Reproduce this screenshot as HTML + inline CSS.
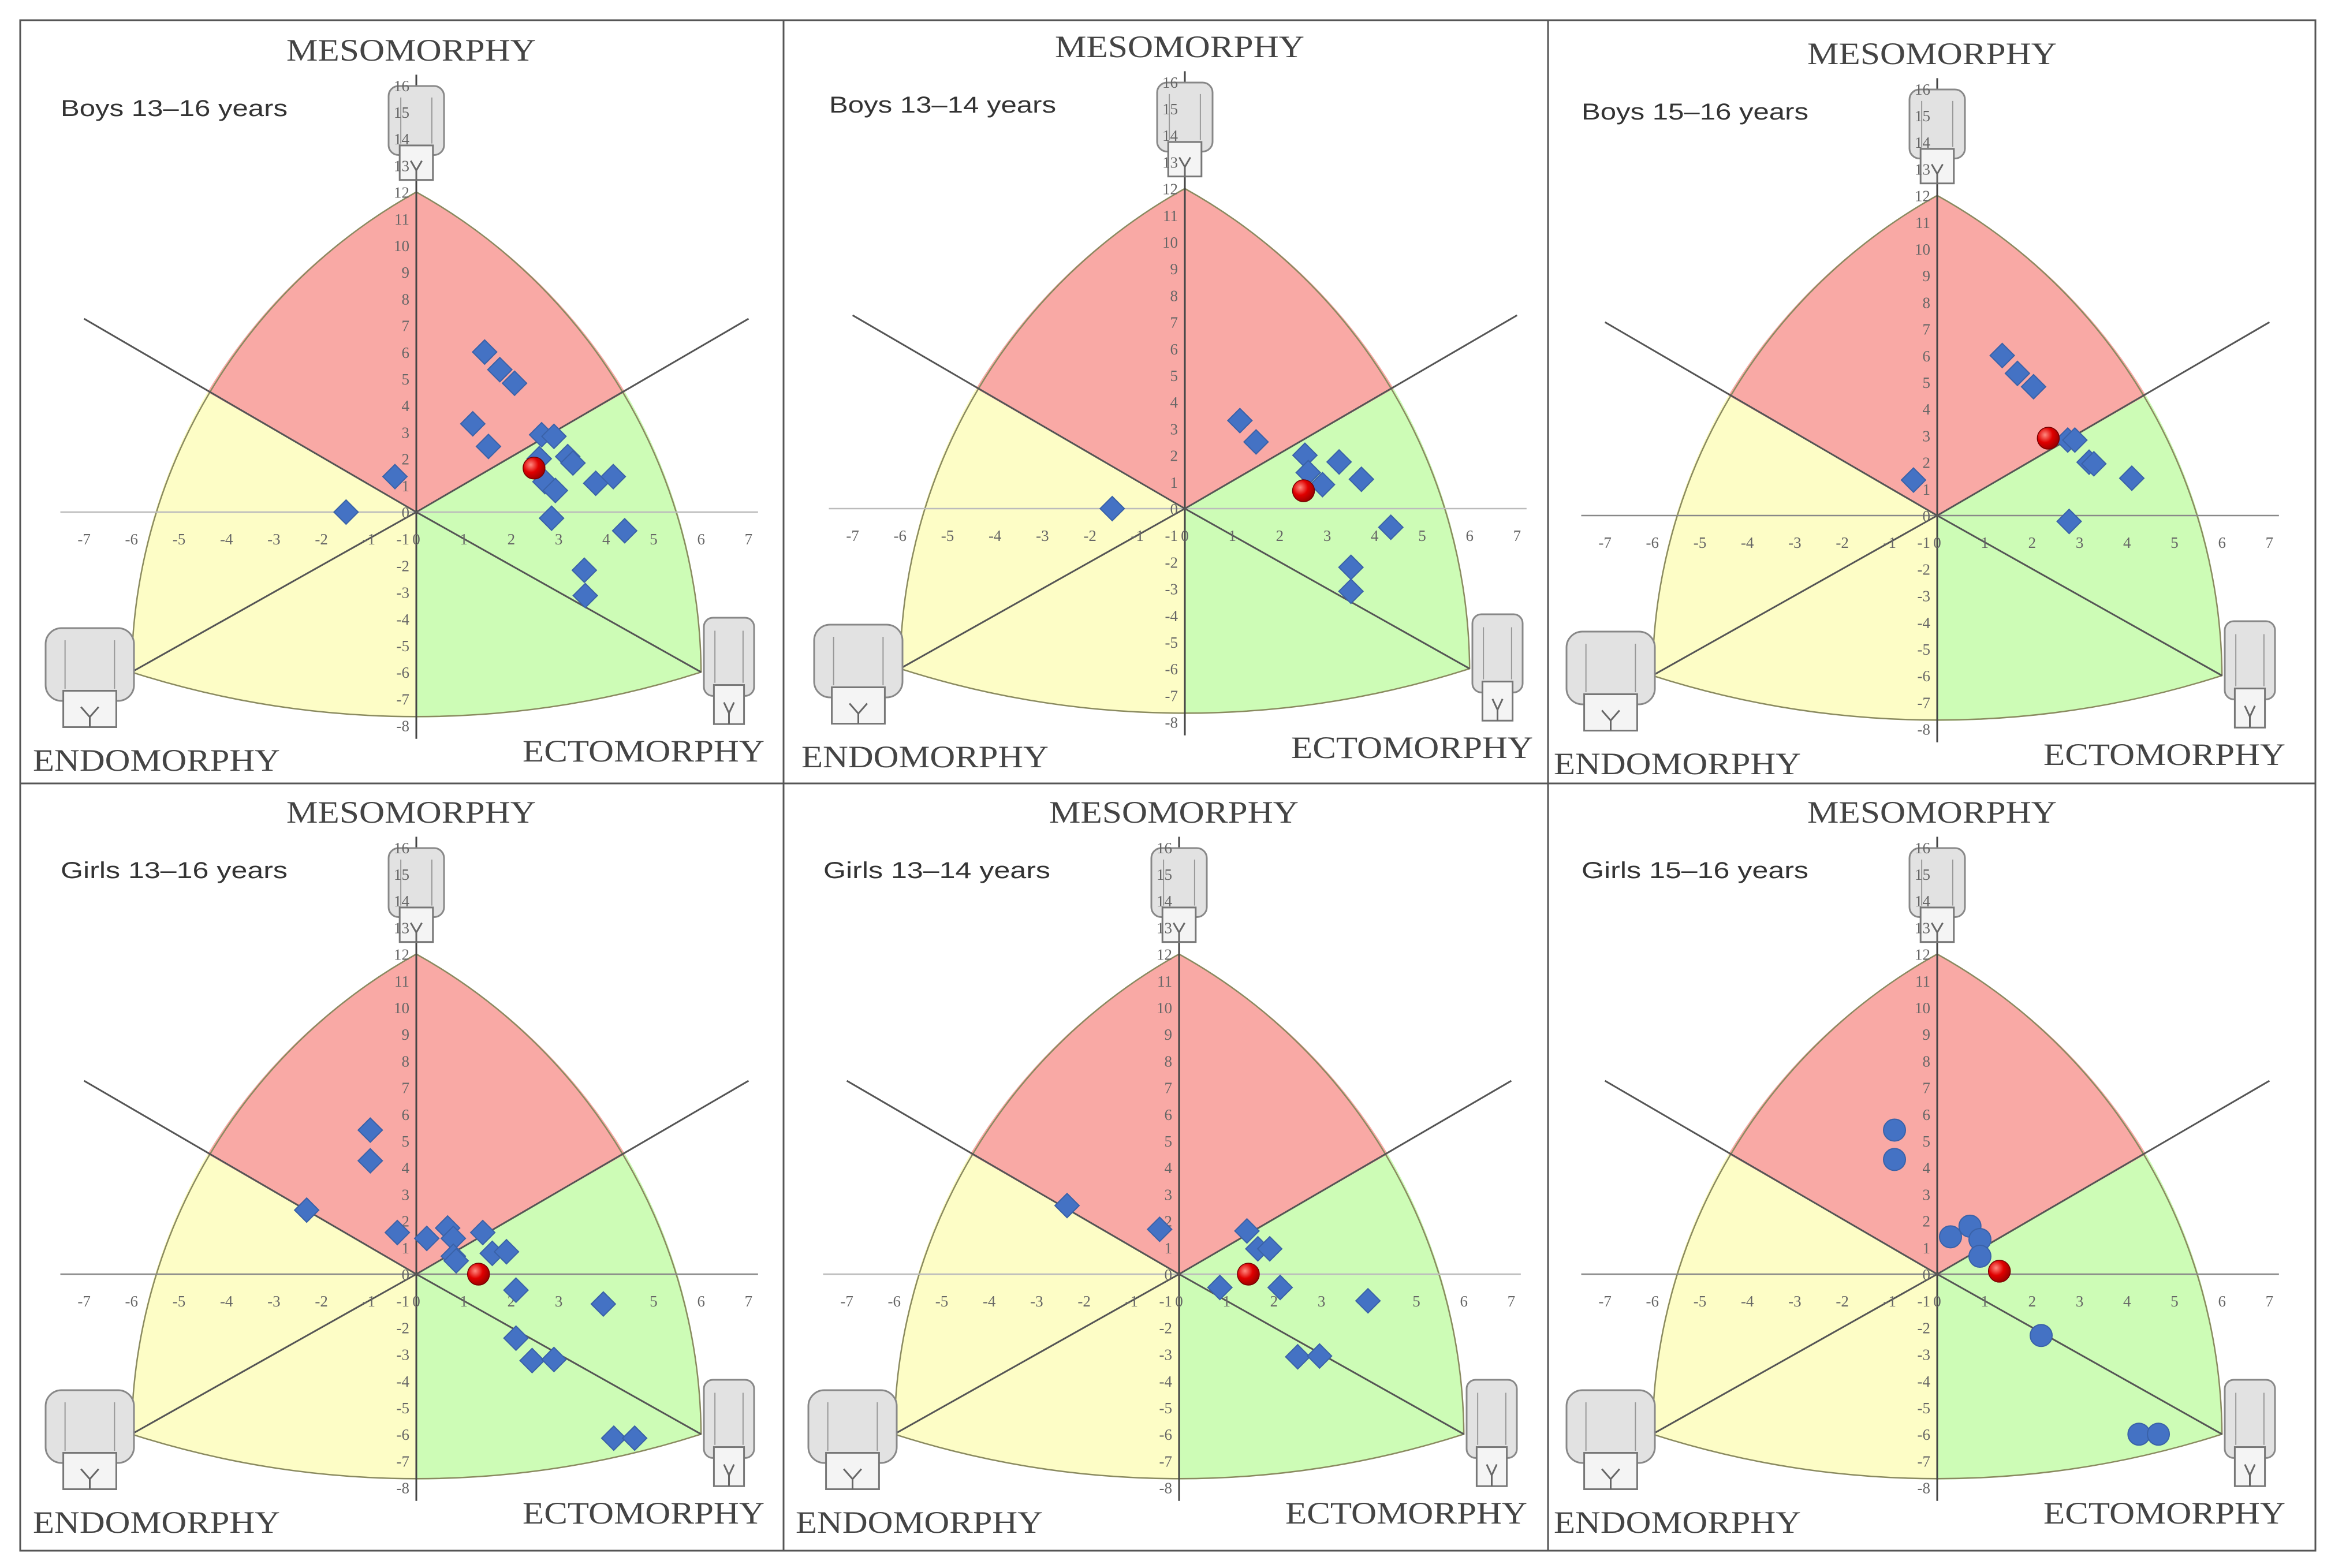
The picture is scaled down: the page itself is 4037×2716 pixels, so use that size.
<!DOCTYPE html>
<html><head><meta charset="utf-8"><style>html,body{margin:0;padding:0;background:#fff}svg{display:block}</style></head>
<body>
<svg id="chart" xmlns="http://www.w3.org/2000/svg" width="4037" height="2716" viewBox="0 0 4037 2716">
<defs>
<radialGradient id="redg" cx="0.35" cy="0.35" r="0.7"><stop offset="0" stop-color="#ff8a80"/><stop offset="0.5" stop-color="#e00000"/><stop offset="1" stop-color="#900"/></radialGradient>
</defs>
<rect x="0" y="0" width="4037" height="2716" fill="#fff"/>
<g id="frame" stroke="#555" stroke-width="3" fill="none">
<rect x="35" y="35" width="3975" height="2651"/>
<line x1="1357" y1="35" x2="1357" y2="2686"/>
<line x1="2681" y1="35" x2="2681" y2="2686"/>
<line x1="35" y1="1357" x2="4010" y2="1357"/>
</g>
</svg>
<script>
// ---- data ----
const panelTitles = ["Boys 13–16 years","Boys 13–14 years","Boys 15–16 years","Girls 13–16 years","Girls 13–14 years","Girls 15–16 years"];
const markerShapes = ["diamond","diamond","diamond","diamond","diamond","circle"];
const p1X = [1.44,1.76,2.07,1.19,1.52,-0.45,-1.48,2.64,2.9,3.19,3.3,2.59,2.71,2.93,3.78,4.15,2.85,4.39,3.54,3.56];
const p1Y = [6.0,5.34,4.83,3.31,2.46,1.33,0,2.9,2.84,2.08,1.84,2.0,1.14,0.81,1.08,1.33,-0.23,-0.7,-2.18,-3.13];
const p2X = [1.16,1.5,2.53,2.6,2.9,3.25,3.72,4.34,3.5,3.5,-1.53];
const p2Y = [3.3,2.5,2.0,1.35,0.9,1.75,1.1,-0.7,-2.2,-3.1,0];
const p3X = [1.37,1.69,2.03,2.75,2.9,3.2,3.3,4.1,2.78,-0.5];
const p3Y = [6.0,5.33,4.83,2.83,2.83,2.0,1.94,1.4,-0.22,1.33];
const p4X = [-0.97,-0.97,-2.31,-0.4,0.22,0.66,0.78,0.78,0.84,1.4,1.6,1.9,2.1,2.1,2.44,2.9,3.94,4.16,4.6];
const p4Y = [5.4,4.25,2.4,1.56,1.34,1.73,1.34,0.67,0.5,1.56,0.78,0.84,-0.6,-2.4,-3.24,-3.2,-1.12,-6.15,-6.15];
const p5X = [-2.36,-0.41,1.43,1.66,1.91,0.86,2.13,3.98,2.5,2.96];
const p5Y = [2.57,1.68,1.62,0.95,0.95,-0.5,-0.5,-1.0,-3.1,-3.07];
const p6X = [-0.9,-0.9,0.28,0.69,0.9,0.9,2.19,4.25,4.66];
const p6Y = [5.4,4.3,1.4,1.8,1.3,0.67,-2.3,-6.0,-6.0];
const meanX = [2.48,2.5,2.34,1.31,1.46,1.31];
const meanY = [1.65,0.67,2.9,0,0,0.11];
const yTicks = [-8,-7,-6,-5,-4,-3,-2,-1,0,1,2,3,4,5,6,7,8,9,10,11,12,13,14,15,16];
const xTicks = [-7,-6,-5,-4,-3,-2,-1,0,1,2,3,4,5,6,7];
const allX = [p1X,p2X,p3X,p4X,p5X,p6X];
const allY = [p1Y,p2Y,p3Y,p4Y,p5Y,p6Y];
// ---- layout ----
const origins = [[721,887],[2052,881],[3355,893],[721,2207],[2042,2207],[3355,2207]];
const UX = 82.2, UY = 46.2;
const NS = "http://www.w3.org/2000/svg";
const svg = document.getElementById("chart");
function mk(tag, attrs, parent){ const e=document.createElementNS(NS,tag); for(const k in attrs) e.setAttribute(k,attrs[k]); (parent||svg).appendChild(e); return e; }

origins.forEach((o,i)=>{
  const ox=o[0], oy=o[1];
  const sx = v => ox + v*UX;
  const sy = v => oy - v*UY;
  const g = mk("g",{});
  
  
  const T=[sx(0),sy(12)], R=[sx(6),sy(-6)], L=[sx(-6),sy(-6)], O=[sx(0),sy(0)];
  const Pr=[sx(4.4),sy(4.5)], Pl=[sx(-4.4),sy(4.5)], B=[sx(0),sy(-7.7)];
  const rs=960, rb=1617;
  const red = mk("path",{d:`M${O} L${Pl} A${rs} ${rs} 0 0 1 ${T} A${rs} ${rs} 0 0 1 ${Pr} Z`,fill:"#f9a9a5"},g);
  
  
  const grn = mk("path",{d:`M${O} L${Pr} A${rs} ${rs} 0 0 1 ${R} A${rb} ${rb} 0 0 1 ${B} Z`,fill:"#cdfcb6"},g);
  
  
  const yel = mk("path",{d:`M${O} L${B} A${rb} ${rb} 0 0 1 ${L} A${rs} ${rs} 0 0 1 ${Pl} Z`,fill:"#fdfdc6"},g);
  
  
  const outline = mk("path",{d:`M${T} A${rs} ${rs} 0 0 1 ${R} A${rb} ${rb} 0 0 1 ${L} A${rs} ${rs} 0 0 1 ${T} Z`,fill:"none",stroke:"#8a8a60","stroke-width":2.5},g);
  
  
  const xa = mk("line",{x1:sx(-7.5),y1:sy(0),x2:sx(7.2),y2:sy(0),stroke:(i==2||i==3||i==5)?"#888":"#bbb","stroke-width":2.5},g);
  
  
  const ya = mk("line",{x1:sx(0),y1:sy(16.4),x2:sx(0),y2:sy(-8.5),stroke:"#444","stroke-width":3},g);
  
  
  [[7,7.25],[-7,7.25],[6,-6],[-6,-6]].forEach(p=>{
    const ln = mk("line",{x1:O[0],y1:O[1],x2:sx(p[0]),y2:sy(p[1]),stroke:"#555","stroke-width":3},g);
    
    
  });
  // figures
  const figs=[[-48,-738,96,166,'top-body-figure'],[-642,201,153,175,'endomorph-body-figure'],[498,183,87,188,'ectomorph-body-figure']];
  figs.forEach(f=>{
    const fg = mk("g",{},g);
    
    
    const x=ox+f[0], y=oy+f[1], w=f[2], h=f[3];
    mk("rect",{x:x,y:y,width:w,height:h*0.72,rx:w*0.18,fill:"#e2e2e2",stroke:"#888","stroke-width":3},fg);
    mk("rect",{x:x+w*0.2,y:y+h*0.62,width:w*0.6,height:h*0.36,fill:"#f4f4f4",stroke:"#777","stroke-width":3},fg);
    mk("path",{d:`M${x+w*0.4} ${y+h*0.78} L${x+w*0.5} ${y+h*0.88} L${x+w*0.6} ${y+h*0.78} M${x+w*0.5} ${y+h*0.88} L${x+w*0.5} ${y+h*0.98}`,fill:"none",stroke:"#666","stroke-width":3},fg);
    mk("line",{x1:x+w*0.22,y1:y+h*0.12,x2:x+w*0.22,y2:y+h*0.6,stroke:"#999","stroke-width":2},fg);
    mk("line",{x1:x+w*0.78,y1:y+h*0.12,x2:x+w*0.78,y2:y+h*0.6,stroke:"#999","stroke-width":2},fg);
  });
  // ticks
  yTicks.forEach(v=>{
    const t = mk("text",{x:sx(0)-12,y:sy(v)+10,"text-anchor":"end","font-family":"Liberation Serif, serif","font-size":27,fill:"#666"},g);
    
    
    t.textContent = String(v);
  });
  xTicks.forEach(v=>{
    const t = mk("text",{x:sx(v),y:sy(0)+56,"text-anchor":"middle","font-family":"Liberation Serif, serif","font-size":27,fill:"#666"},g);
    
    
    t.textContent = String(v);
  });
  // labels
  const meso = mk("text",{x:ox-9,y:oy-782,"text-anchor":"middle","font-family":"Liberation Serif, serif","font-size":54,fill:"#444",textLength:432,lengthAdjust:"spacingAndGlyphs"},g);
  
  
  meso.textContent="MESOMORPHY";
  const endo = mk("text",{x:ox-664,y:oy+448,"font-family":"Liberation Serif, serif","font-size":54,fill:"#444",textLength:428,lengthAdjust:"spacingAndGlyphs"},g);
  
  
  endo.textContent="ENDOMORPHY";
  const ecto = mk("text",{x:ox+184,y:oy+432,"font-family":"Liberation Serif, serif","font-size":54,fill:"#444",textLength:419,lengthAdjust:"spacingAndGlyphs"},g);
  
  
  ecto.textContent="ECTOMORPHY";
  const tt = mk("text",{x:ox-616,y:oy-686,"font-family":"Liberation Sans, sans-serif","font-size":40,fill:"#333",textLength:393,lengthAdjust:"spacingAndGlyphs"},g);
  
  
  tt.textContent=panelTitles[i];
  // points
  const xs=allX[i], ys=allY[i];
  xs.forEach((xv,k)=>{
    const cx=sx(xv), cy=sy(ys[k]);
    let m;
    if(markerShapes[i]==="circle"){
      m = mk("circle",{cx:cx,cy:cy,r:19,fill:"#4472c4",stroke:"#3a62a8","stroke-width":2},g);
    } else {
      const d=21;
      m = mk("path",{d:`M${cx} ${cy-d} L${cx+d} ${cy} L${cx} ${cy+d} L${cx-d} ${cy} Z`,fill:"#4472c4",stroke:"#3a62a8","stroke-width":2},g);
    }
    
    
  });
  const mean = mk("circle",{cx:sx(meanX[i]),cy:sy(meanY[i]),r:19,fill:"url(#redg)",stroke:"#700","stroke-width":1.5},g);
  
  
});
svg.appendChild(document.getElementById("frame"));
</script>
</body></html>
